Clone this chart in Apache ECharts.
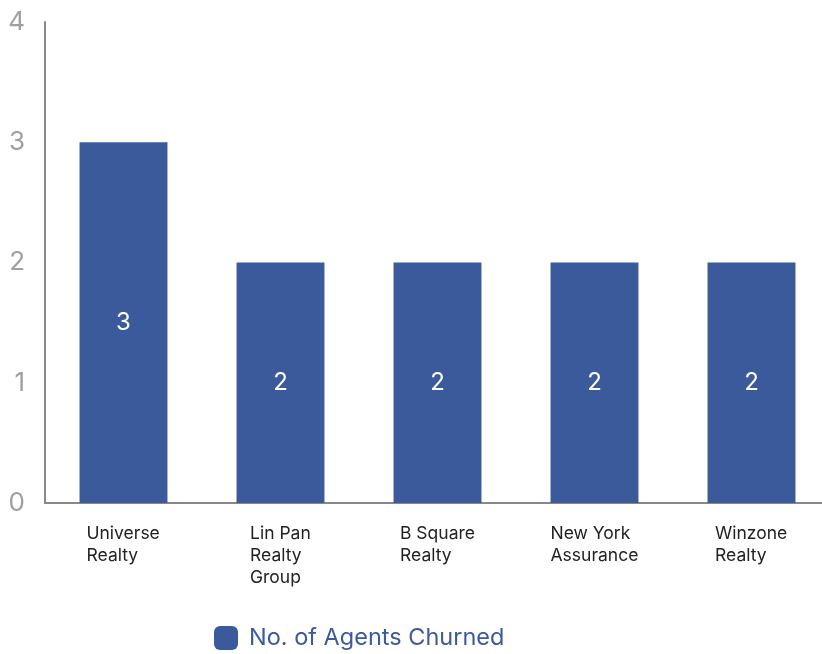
<!DOCTYPE html>
<html><head><meta charset="utf-8">
<script src="https://cdn.jsdelivr.net/npm/echarts@6/dist/echarts.min.js"></script>
<style>html,body{margin:0;padding:0;background:#fff;overflow:hidden}#c{width:832px;height:654px}</style>
</head><body><div id="c"></div>
<script>
const categories = ["Universe\nRealty", "Lin Pan\nRealty\nGroup", "B Square\nRealty", "New York\nAssurance", "Winzone\nRealty"];
const values = [3, 2, 2, 2, 2];
const seriesName = "No. of Agents Churned";
const yTicks = [0, 1, 2, 3, 4];

const FONT = 'Inter, "Noto Sans", sans-serif';
const XFS = 17.5;
const ctx = document.createElement('canvas').getContext('2d');
ctx.font = XFS + 'px ' + FONT;
const rich = {};
categories.forEach((c, i) => {
  const w = Math.max(...c.split('\n').map(l => ctx.measureText(l).width));
  rich['w' + i] = { width: Math.ceil(w), align: 'left', fontSize: XFS, lineHeight: 22, color: '#222', fontFamily: FONT };
});

const chart = echarts.init(document.getElementById('c'));
chart.setOption({
  animation: false,
  grid: { left: 45, right: 2, top: 22, bottom: 151, containLabel: false },
  xAxis: {
    type: 'category', data: categories,
    axisLine: { lineStyle: { color: '#888', width: 2 } },
    axisTick: { show: false },
    axisLabel: {
      margin: 20, interval: 0,
      formatter: (v, i) => v.split('\n').map(l => '{w' + i + '|' + l + '}').join('\n'),
      rich: rich
    }
  },
  yAxis: {
    type: 'value', min: 0, max: 4, interval: 1,
    axisLine: { show: true, lineStyle: { color: '#888', width: 2 } },
    splitLine: { show: false },
    axisLabel: { color: '#a0a0a0', fontSize: 26, fontFamily: FONT, margin: 20,
      formatter: v => yTicks.includes(v) ? String(v) : '' }
  },
  legend: {
    left: 209, top: 621, itemWidth: 24, itemHeight: 24, itemGap: 10,
    icon: 'roundRect',
    textStyle: { color: '#3b5a9d', fontSize: 23.5, fontFamily: FONT, padding: [0, 0, 0, 6] }
  },
  series: [{
    name: seriesName, type: 'bar', data: values, barWidth: '56%',
    itemStyle: { color: '#3b5a9b' },
    label: { show: true, position: 'inside', color: '#fff', fontSize: 24, fontFamily: FONT }
  }]
});
</script></body></html>
